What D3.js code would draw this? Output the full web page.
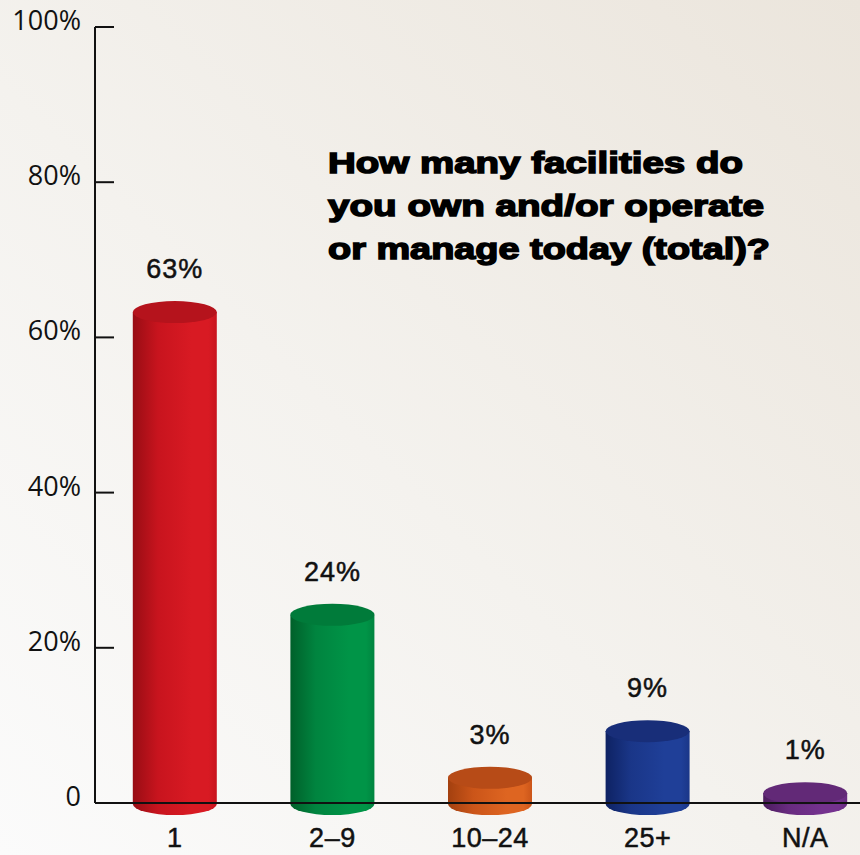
<!DOCTYPE html>
<html>
<head>
<meta charset="utf-8">
<script src="https://cdn.jsdelivr.net/npm/d3@7"></script>
<style>
  html, body { margin: 0; padding: 0; background: #f5f3ef; }
  svg { display: block; }
</style>
</head>
<body>
<div id="chart"></div>
<script>
// data
const categories = ["1", "2–9", "10–24", "25+", "N/A"];
const values = [63, 24, 3, 9, 1];
const valueLabels = ["63%", "24%", "3%", "9%", "1%"];
const yTicks = [0, 20, 40, 60, 80, 100];
const yTickLabels = ["0", "20%", "40%", "60%", "80%", "100%"];
const titleLines = ["How many facilities do", "you own and/or operate", "or manage today (total)?"];

// colours per bar: dark edge, mid body, light body, top face
const palette = [
  { dark: "#980d14", mid: "#c8141e", light: "#d81a23", top: "#b5131c" },
  { dark: "#00602a", mid: "#00843f", light: "#009447", top: "#007b3a" },
  { dark: "#a3400f", mid: "#cb5519", light: "#de6521", top: "#b74b17" },
  { dark: "#0e2263", mid: "#1a3688", light: "#1f3f98", top: "#182e79" },
  { dark: "#4c1c5e", mid: "#682b80", light: "#74328e", top: "#622977" }
];

const width = 860, height = 855;
const svg = d3.select("#chart").append("svg")
  .attr("width", width)
  .attr("height", height);

const defs = svg.append("defs");
const bg = defs.append("linearGradient").attr("id", "bg")
  .attr("x1", 0).attr("y1", 1).attr("x2", 1).attr("y2", 0);
bg.append("stop").attr("offset", "0%").attr("stop-color", "#fbfbfb");
bg.append("stop").attr("offset", "45%").attr("stop-color", "#f4f2ee");
bg.append("stop").attr("offset", "100%").attr("stop-color", "#ebe5dc");

svg.append("rect").attr("width", width).attr("height", height).attr("fill", "url(#bg)");

palette.forEach((c, i) => {
  const g = defs.append("linearGradient").attr("id", "body" + i)
    .attr("x1", 0).attr("y1", 0).attr("x2", 1).attr("y2", 0);
  g.append("stop").attr("offset", "0%").attr("stop-color", c.dark);
  g.append("stop").attr("offset", "30%").attr("stop-color", c.mid);
  g.append("stop").attr("offset", "70%").attr("stop-color", c.light);
  g.append("stop").attr("offset", "90%").attr("stop-color", c.light);
  g.append("stop").attr("offset", "100%").attr("stop-color", c.mid);
});

// scales
const y = d3.scaleLinear().domain([0, 100]).range([803, 27]);
const x = d3.scaleBand().domain(categories).range([96, 884]).padding(0);

const barW = 84, ry = 11;

// axis line + ticks
const axisX = 95;
svg.append("line")
  .attr("x1", axisX).attr("x2", axisX)
  .attr("y1", y(100)).attr("y2", y(0))
  .attr("stroke", "#111").attr("stroke-width", 2);

svg.selectAll(".tick").data(yTicks).enter().append("line")
  .attr("x1", axisX).attr("x2", 114)
  .attr("y1", d => y(d)).attr("y2", d => y(d))
  .attr("stroke", "#111").attr("stroke-width", 2);

svg.selectAll(".ylab").data(yTicks).enter().append("text")
  .attr("x", 81)
  .attr("y", d => y(d) + 3)
  .attr("text-anchor", "end")
  .attr("font-family", "'Open Sans', sans-serif")
  .attr("font-size", 27)
  .attr("fill", "#111")
  .text((d, i) => yTickLabels[i]);

// cylinders
const bars = svg.selectAll(".bar").data(values).enter().append("g");

bars.each(function(v, i) {
  const g = d3.select(this);
  const cx = x(categories[i]) + x.bandwidth() / 2;
  const yTop = y(v) - 2;
  const yBot = y(0) + 1;
  g.append("path")
    .attr("d", `M${cx - barW / 2},${yTop} L${cx - barW / 2},${yBot}
      A${barW / 2},${ry} 0 0 0 ${cx + barW / 2},${yBot}
      L${cx + barW / 2},${yTop} Z`)
    .attr("fill", `url(#body${i})`);
  g.append("ellipse")
    .attr("cx", cx).attr("cy", yTop)
    .attr("rx", barW / 2).attr("ry", ry)
    .attr("fill", palette[i].top);
});

// baseline drawn over bars
svg.append("line")
  .attr("x1", axisX).attr("x2", width)
  .attr("y1", y(0)).attr("y2", y(0))
  .attr("stroke", "#111").attr("stroke-width", 2);

// value labels
svg.selectAll(".vlab").data(values).enter().append("text")
  .attr("x", (d, i) => x(categories[i]) + x.bandwidth() / 2)
  .attr("y", d => y(d) - 2 - ry - 23)
  .attr("text-anchor", "middle")
  .attr("font-family", "'Liberation Sans', Arial, sans-serif")
  .attr("font-size", 27)
  .attr("letter-spacing", 1)
  .attr("fill", "#111")
  .attr("stroke", "#111")
  .attr("stroke-width", 0.5)
  .text((d, i) => valueLabels[i]);

// category labels
svg.selectAll(".xlab").data(categories).enter().append("text")
  .attr("x", d => x(d) + x.bandwidth() / 2)
  .attr("y", 847)
  .attr("text-anchor", "middle")
  .attr("font-family", "'Liberation Sans', Arial, sans-serif")
  .attr("font-size", 27)
  .attr("letter-spacing", 0.5)
  .attr("fill", "#111")
  .attr("stroke", "#111")
  .attr("stroke-width", 0.5)
  .text(d => d);

// title
const titleWidths = [415, 436, 442];
svg.selectAll(".title").data(titleLines).enter().append("text")
  .attr("x", 328)
  .attr("y", (d, i) => 173 + i * 43)
  .attr("font-family", "'Liberation Sans', Arial, sans-serif")
  .attr("font-weight", "bold")
  .attr("font-size", 30)
  .attr("fill", "#000")
  .attr("stroke", "#000")
  .attr("stroke-width", 1.5)
  .attr("textLength", (d, i) => titleWidths[i])
  .attr("lengthAdjust", "spacingAndGlyphs")
  .text(d => d);
</script>
</body>
</html>
